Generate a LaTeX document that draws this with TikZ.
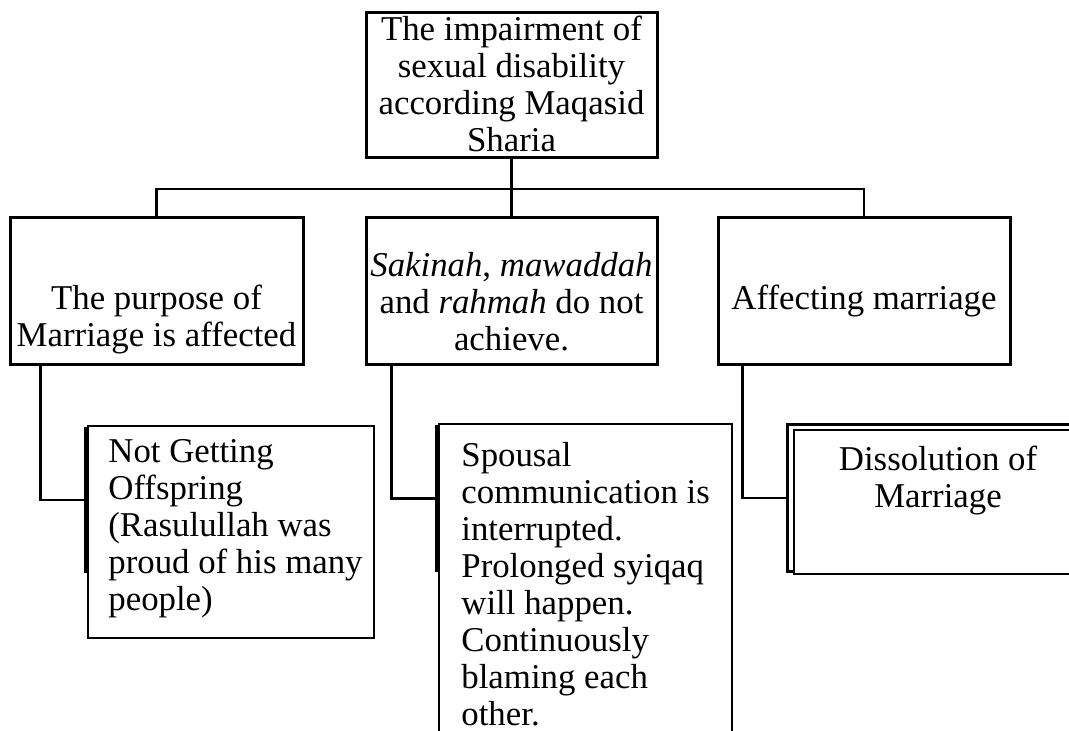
\documentclass[tikz,border=0pt]{standalone}
\usepackage{fontspec}
\setmainfont{Liberation Serif}
\usetikzlibrary{fit,calc}

\begin{document}
\begin{tikzpicture}[x=0.5pt,y=-0.5pt,
  box/.style={draw, line width=1.5pt, inner sep=0pt},
  backbox/.style={draw, line width=1.5pt, inner sep=0pt},
  frontbox/.style={draw, fill=white, line width=0.6pt, inner sep=0pt},
  txt/.style={inner sep=0pt, font=\fontsize{17.4}{18.5}\selectfont},
  link/.style={line width=1.3pt}]

\clip (0,0) rectangle (1069,731);

% Root box
\node[box, fit={(366,13) (657,158)}] (root) {};
\node[txt, align=center] at (511.5,84) {The impairment of\\ sexual disability\\ according Maqasid\\ Sharia};

% Second row
\node[box, fit={(10,218) (303,365)}] (purpose) {};
\node[box, fit={(366,218) (657,365)}] (mean) {};
\node[box, fit={(718,218) (1010,365)}] (affect) {};

\node[txt, align=center] at (156.5,320) {The purpose of\\ Marriage is affected};
\node[txt, align=center] at (511.5,302) {\textit{Sakinah}, \textit{mawaddah}\\ and \textit{rahmah} do not\\ achieve.};
\node[txt, align=center] at (864,301) {Affecting marriage};

% Third row: thick box behind, thin box in front
\node[backbox, fit={(85,429) (300,571)}] (offback) {};
\node[backbox, fit={(436,427) (600,570)}] (commback) {};
\node[backbox, fit={(787,425) (1100,571)}] (dissback) {};

\node[frontbox, fit={(88,426) (374,638)}] (offspring) {};
\node[frontbox, fit={(439,424) (732,760)}] (comm) {};
\node[frontbox, fit={(794,430) (1082,574)}] (dissolve) {};

\node[txt, align=left, anchor=west] at (108,529) {Not Getting\\ Offspring\\ (Rasulullah was\\ proud of his many\\ people)};
\node[txt, align=left, anchor=west] at (461,584.5) {Spousal\\ communication is\\ interrupted.\\ Prolonged syiqaq\\ will happen.\\ Continuously\\ blaming each\\ other.};
\node[txt, align=center] at (938,481) {Dissolution of\\ Marriage};

% Connectors
\coordinate (bus) at (512,189);
\draw[link] (root.south) -- (mean.north);
\draw[link] (purpose.north) |- (bus) -| (affect.north);

\draw[link] ($(purpose.south west)+(32,0)$) |- (offback.west);
\draw[link] ($(mean.south west)+(27,0)$) |- (commback.west);
\draw[link] ($(affect.south west)+(26,0)$) |- (dissback.west);

\end{tikzpicture}
\end{document}
